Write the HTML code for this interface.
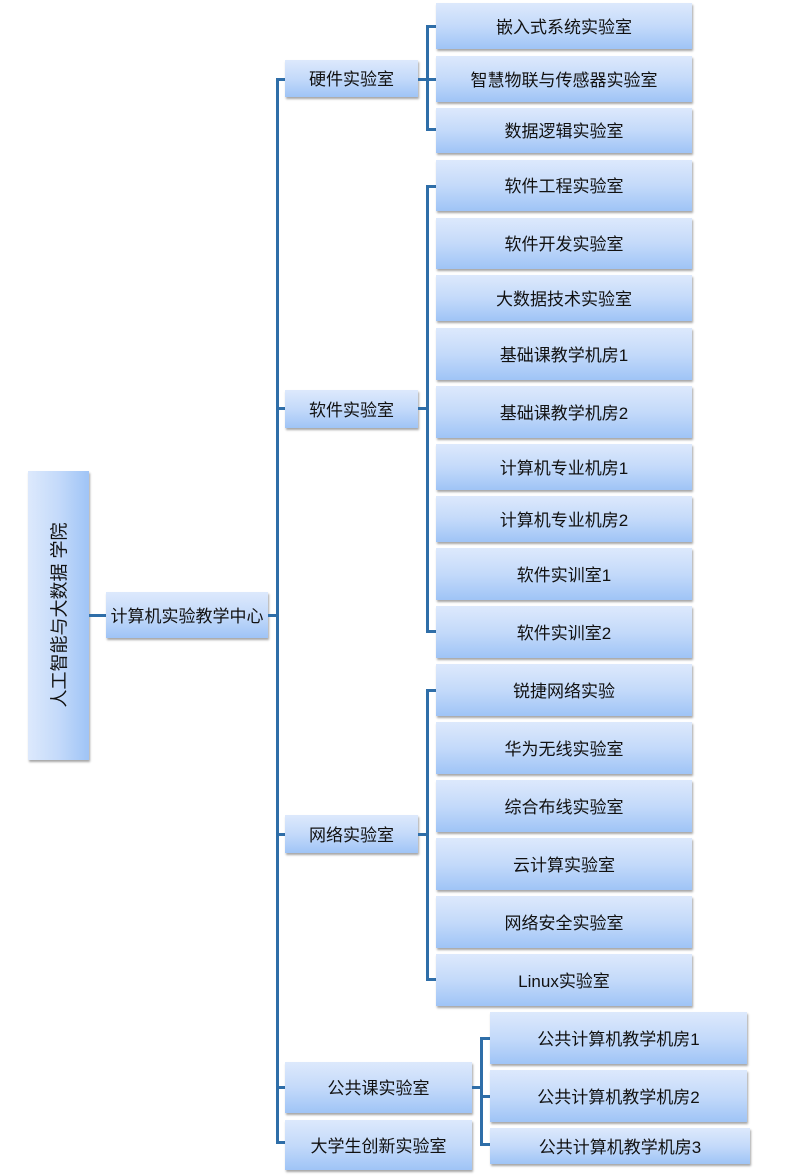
<!DOCTYPE html>
<html><head><meta charset="utf-8"><style>
body{margin:0;width:796px;height:1176px;background:#fff;position:relative;overflow:hidden;font-family:"Liberation Sans","Noto Sans CJK SC",sans-serif;}
.b{position:absolute;display:flex;align-items:center;justify-content:center;font-size:17px;color:#111;background:linear-gradient(#dde9fc,#c4dafa 50%,#9fc4f6);box-shadow:1px 2px 2px rgba(0,0,0,0.35);padding-bottom:2px;box-sizing:border-box;}
.l{position:absolute;background:#2f6ea8;}
</style></head><body>
<div class="b" style="left:28px;top:471px;width:61px;height:289px;background:linear-gradient(90deg,#dde9fc,#c4dafa 50%,#9fc4f6);"><span style="transform:rotate(-90deg);white-space:nowrap;font-size:18px;">人工智能与大数据 学院</span></div>
<div class="l" style="left:89px;top:614px;width:17px;height:3px"></div>
<div class="b" style="left:106px;top:592px;width:162px;height:46px">计算机实验教学中心</div>
<div class="l" style="left:268px;top:614px;width:10px;height:3px"></div>
<div class="l" style="left:276px;top:78px;width:3px;height:1066px"></div>
<div class="l" style="left:276px;top:78px;width:9px;height:3px"></div>
<div class="l" style="left:276px;top:407px;width:9px;height:3px"></div>
<div class="l" style="left:276px;top:833px;width:9px;height:3px"></div>
<div class="l" style="left:276px;top:1086px;width:9px;height:3px"></div>
<div class="l" style="left:276px;top:1141px;width:9px;height:3px"></div>
<div class="b" style="left:285px;top:60px;width:133px;height:37px">硬件实验室</div>
<div class="b" style="left:285px;top:390px;width:133px;height:38px">软件实验室</div>
<div class="b" style="left:285px;top:815px;width:133px;height:38px">网络实验室</div>
<div class="b" style="left:285px;top:1062px;width:187px;height:51px">公共课实验室</div>
<div class="b" style="left:285px;top:1120px;width:187px;height:50px">大学生创新实验室</div>
<div class="l" style="left:418px;top:78px;width:10px;height:3px"></div>
<div class="l" style="left:426px;top:25px;width:3px;height:106px"></div>
<div class="l" style="left:426px;top:25px;width:10px;height:3px"></div>
<div class="l" style="left:426px;top:78px;width:10px;height:3px"></div>
<div class="l" style="left:426px;top:128px;width:10px;height:3px"></div>

<div class="l" style="left:418px;top:407px;width:10px;height:3px"></div>
<div class="l" style="left:426px;top:185px;width:3px;height:448px"></div>
<div class="l" style="left:426px;top:185px;width:10px;height:3px"></div>
<div class="l" style="left:426px;top:630px;width:10px;height:3px"></div>

<div class="l" style="left:418px;top:833px;width:10px;height:3px"></div>
<div class="l" style="left:426px;top:689px;width:3px;height:292px"></div>
<div class="l" style="left:426px;top:689px;width:10px;height:3px"></div>
<div class="l" style="left:426px;top:978px;width:10px;height:3px"></div>

<div class="l" style="left:472px;top:1086px;width:10px;height:3px"></div>
<div class="l" style="left:480px;top:1037px;width:3px;height:109px"></div>
<div class="l" style="left:480px;top:1037px;width:10px;height:3px"></div>
<div class="l" style="left:480px;top:1095px;width:10px;height:3px"></div>
<div class="l" style="left:480px;top:1143px;width:10px;height:3px"></div>

<div class="b" style="left:436px;top:3px;width:256px;height:46px">嵌入式系统实验室</div>
<div class="b" style="left:436px;top:56px;width:256px;height:46px">智慧物联与传感器实验室</div>
<div class="b" style="left:436px;top:108px;width:256px;height:45px">数据逻辑实验室</div>
<div class="b" style="left:436px;top:160px;width:256px;height:51px">软件工程实验室</div>
<div class="b" style="left:436px;top:218px;width:256px;height:51px">软件开发实验室</div>
<div class="b" style="left:436px;top:275px;width:256px;height:46px">大数据技术实验室</div>
<div class="b" style="left:436px;top:328px;width:256px;height:52px">基础课教学机房1</div>
<div class="b" style="left:436px;top:386px;width:256px;height:52px">基础课教学机房2</div>
<div class="b" style="left:436px;top:444px;width:256px;height:46px">计算机专业机房1</div>
<div class="b" style="left:436px;top:496px;width:256px;height:46px">计算机专业机房2</div>
<div class="b" style="left:436px;top:548px;width:256px;height:52px">软件实训室1</div>
<div class="b" style="left:436px;top:606px;width:256px;height:52px">软件实训室2</div>
<div class="b" style="left:436px;top:664px;width:256px;height:52px">锐捷网络实验</div>
<div class="b" style="left:436px;top:722px;width:256px;height:52px">华为无线实验室</div>
<div class="b" style="left:436px;top:780px;width:256px;height:52px">综合布线实验室</div>
<div class="b" style="left:436px;top:838px;width:256px;height:52px">云计算实验室</div>
<div class="b" style="left:436px;top:896px;width:256px;height:52px">网络安全实验室</div>
<div class="b" style="left:436px;top:954px;width:256px;height:52px">Linux实验室</div>
<div class="b" style="left:490px;top:1012px;width:257px;height:52px">公共计算机教学机房1</div>
<div class="b" style="left:490px;top:1070px;width:257px;height:52px">公共计算机教学机房2</div>
<div class="b" style="left:490px;top:1128px;width:260px;height:36px">公共计算机教学机房3</div>
</body></html>
